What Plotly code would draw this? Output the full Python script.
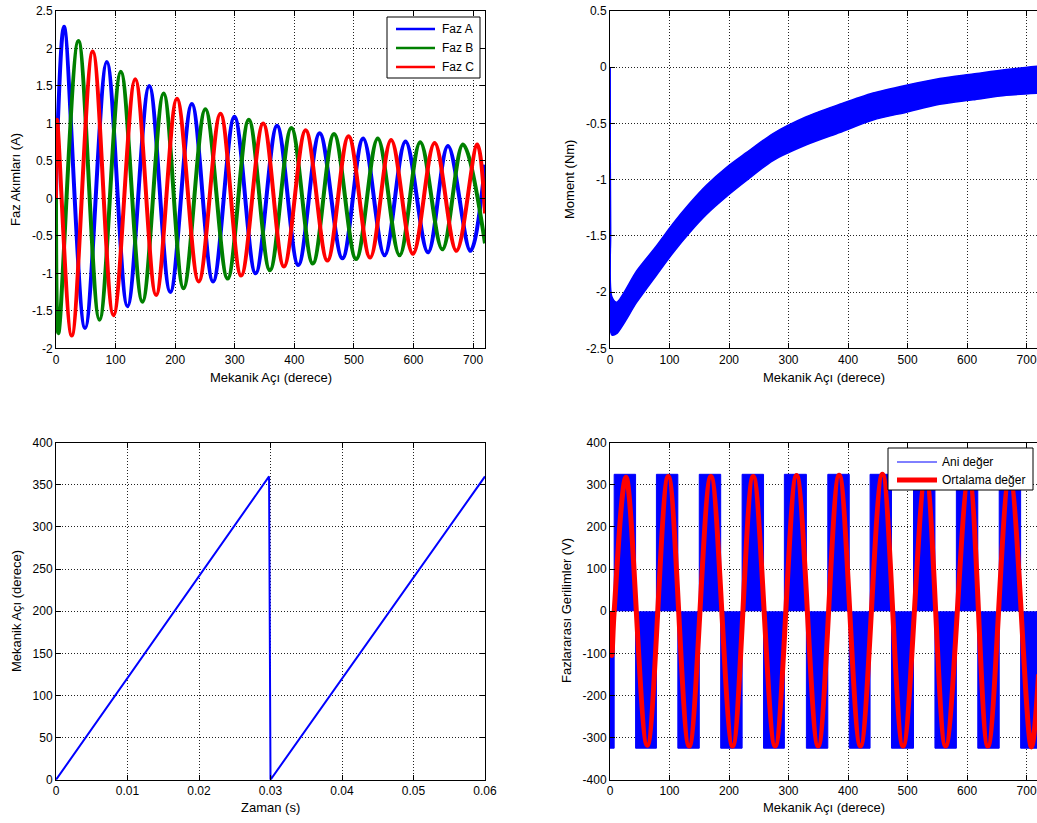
import plotly.graph_objects as go

W, H = 1037, 823
FONT = "Liberation Sans, Arial, Helvetica, sans-serif"

# ---- Faz akımları: tepe / çukur noktaları (mekanik açı [derece], akım [A]) ----
faz_a_aci = [0, 3, 13.5, 48.8, 85.3, 120, 156.5, 191.8, 228, 263.6, 299.5, 335, 371,
             406.6, 442.5, 480.7, 515.5, 551.4, 586.6, 624.3, 657.8, 695.6, 720]
faz_a_akim = [0, 1.0, 2.29, -1.73, 1.82, -1.44, 1.50, -1.25, 1.26, -1.11, 1.09, -1.00, 0.97,
              -0.89, 0.87, -0.80, 0.80, -0.76, 0.76, -0.72, 0.70, -0.70, 0.45]

faz_b_aci = [0, 4, 37.6, 73, 108.8, 145, 180.6, 214, 250.7, 288, 323.6, 359, 395,
             431, 466.6, 503.7, 540, 576.6, 611.3, 648.4, 683, 720]
faz_b_akim = [0, -1.80, 2.10, -1.62, 1.69, -1.38, 1.40, -1.20, 1.19, -1.07, 1.05, -0.96, 0.94,
              -0.87, 0.86, -0.81, 0.80, -0.76, 0.75, -0.68, 0.72, -0.60]

faz_c_aci = [0, 1.5, 26.4, 61.7, 96.5, 133, 168, 203, 239.5, 276, 310.7, 347.7, 382.5,
             419, 455.5, 491, 527.2, 562.4, 599, 635.4, 672, 707, 720]
faz_c_akim = [0, 1.05, -1.83, 1.96, -1.56, 1.59, -1.29, 1.33, -1.11, 1.13, -1.03, 1.00, -0.91,
              0.91, -0.83, 0.83, -0.79, 0.78, -0.74, 0.74, -0.70, 0.72, -0.20]

# ---- Moment: dalgalı bandın üst ve alt sınırları ----
moment_aci = [0, 0.8, 3, 11, 45, 78, 106, 134, 162, 196, 229, 274, 330, 386, 442, 498,
              554, 610, 666, 720]
moment_ust = [0, -1.40, -2.04, -2.09, -1.81, -1.59, -1.39, -1.21, -1.05, -0.89, -0.76,
              -0.59, -0.44, -0.33, -0.23, -0.16, -0.10, -0.06, -0.02, 0.01]
moment_alt = [0, -1.50, -2.38, -2.37, -2.09, -1.85, -1.65, -1.47, -1.31, -1.15, -1.01,
              -0.83, -0.69, -0.58, -0.47, -0.40, -0.33, -0.29, -0.25, -0.23]

# ---- Mekanik açı - zaman ----
zaman = [0, 0.0298, 0.0300, 0.06]
mekanik_aci = [0, 360, 0, 360]

# ---- Fazlararası gerilim: anahtarlama blokları ve ortalama değer ----
pwm_kenar = [0, 7, 43, 78, 114, 150, 186, 222, 258, 293, 330, 366, 402, 437, 473, 510,
             546, 582, 618, 654, 690, 720]
pwm_seviye = [-325, 325, -325, 325, -325, 325, -325, 325, -325, 325, -325, 325, -325,
              325, -325, 325, -325, 325, -325, 325, -325]

ortalama_aci = [0, 3, 7, 26.9, 62.6, 97.9, 133, 169.5, 206, 240.6, 277.5, 313.4, 349.7,
                385, 420.8, 457.7, 492.4, 530.5, 564, 603, 635, 671.5, 708, 720]
ortalama_v = [0, -105, 0, 318, -318, 320, -320, 320, -320, 320, -320, 322, -320,
              323, -320, 325, -320, 322, -320, 320, -320, 322, -322, -150]

# ---- tick etiketleri ----
aci_ticks = [0, 100, 200, 300, 400, 500, 600, 700]
akim_ticks = [-2, -1.5, -1, -0.5, 0, 0.5, 1, 1.5, 2, 2.5]
akim_text = ["-2", "-1.5", "-1", "-0.5", "0", "0.5", "1", "1.5", "2", "2.5"]
moment_ticks = [-2.5, -2, -1.5, -1, -0.5, 0, 0.5]
moment_text = ["-2.5", "-2", "-1.5", "-1", "-0.5", "0", "0.5"]
zaman_ticks = [0, 0.01, 0.02, 0.03, 0.04, 0.05, 0.06]
zaman_text = ["0", "0.01", "0.02", "0.03", "0.04", "0.05", "0.06"]
aci_y_ticks = [0, 50, 100, 150, 200, 250, 300, 350, 400]
gerilim_ticks = [-400, -300, -200, -100, 0, 100, 200, 300, 400]
gerilim_text = ["-400", "-300", "-200", "-100", "0", "100", "200", "300", "400"]


def px(x):
    return x / W


def py(y):
    return 1 - y / H


fig = go.Figure()

# Faz akımları
for xs, ys, col, ad in [(faz_a_aci, faz_a_akim, "#0000FF", "Faz A"),
                        (faz_b_aci, faz_b_akim, "#008000", "Faz B"),
                        (faz_c_aci, faz_c_akim, "#FF0000", "Faz C")]:
    fig.add_trace(go.Scatter(x=xs, y=ys, mode="lines", name=ad, xaxis="x", yaxis="y",
                             line=dict(color=col, width=4, shape="spline", smoothing=1)))

# Moment bandı
fig.add_trace(go.Scatter(x=moment_aci, y=moment_alt, mode="lines", xaxis="x2", yaxis="y2",
                         line=dict(color="#0000FF", width=1.5, shape="spline", smoothing=0.8),
                         showlegend=False))
fig.add_trace(go.Scatter(x=moment_aci, y=moment_ust, mode="lines", xaxis="x2", yaxis="y2",
                         fill="tonexty", fillcolor="#0000FF",
                         line=dict(color="#0000FF", width=1.5, shape="spline", smoothing=0.8),
                         showlegend=False))

# Mekanik açı
fig.add_trace(go.Scatter(x=zaman, y=mekanik_aci, mode="lines", xaxis="x3", yaxis="y3",
                         line=dict(color="#0000FF", width=2), showlegend=False))

# Fazlararası gerilim
fig.add_trace(go.Scatter(x=pwm_kenar, y=pwm_seviye + [pwm_seviye[-1]], mode="lines",
                         xaxis="x4", yaxis="y4", fill="tozeroy", fillcolor="#0000FF",
                         line=dict(color="#0000FF", width=1, shape="hv"), name="Ani değer"))
fig.add_trace(go.Scatter(x=ortalama_aci, y=ortalama_v, mode="lines", xaxis="x4", yaxis="y4",
                         line=dict(color="#FF0000", width=5, shape="spline", smoothing=1),
                         name="Ortalama değer"))


# Eksen ortak ayarları
def eksen(**kw):
    d = dict(showline=True, linecolor="black", linewidth=1, ticks="inside", ticklen=5,
             tickcolor="black", tickwidth=1, showgrid=True, gridcolor="#222222",
             gridwidth=1, griddash="1px,2px", zeroline=False, automargin=False,
             tickfont=dict(family=FONT, size=12, color="black"), mirror="ticks")
    d.update(kw)
    return d


sol = [px(56), px(485)]
sag = [px(610), 1.0]
ust = [py(348.3), py(11)]
alt = [py(779.8), py(442.7)]

fig.update_layout(
    width=W, height=H, margin=dict(l=0, r=0, t=0, b=0, pad=0),
    paper_bgcolor="white", plot_bgcolor="white", showlegend=False,
    xaxis=eksen(domain=sol, anchor="y", range=[0, 720], tickvals=aci_ticks),
    yaxis=eksen(domain=ust, anchor="x", range=[-2, 2.5], tickvals=akim_ticks,
                ticktext=akim_text),
    xaxis2=eksen(domain=sag, anchor="y2", range=[0, 717.5], tickvals=aci_ticks),
    yaxis2=eksen(domain=ust, anchor="x2", range=[-2.5, 0.5], tickvals=moment_ticks,
                 ticktext=moment_text, mirror=False),
    xaxis3=eksen(domain=sol, anchor="y3", range=[0, 0.06], tickvals=zaman_ticks,
                 ticktext=zaman_text),
    yaxis3=eksen(domain=alt, anchor="x3", range=[0, 400], tickvals=aci_y_ticks),
    xaxis4=eksen(domain=sag, anchor="y4", range=[0, 717.5], tickvals=aci_ticks),
    yaxis4=eksen(domain=alt, anchor="x4", range=[-400, 400], tickvals=gerilim_ticks,
                 ticktext=gerilim_text, mirror=False),
)

# Eksen başlıkları
ann = []


def baslik(text, x, y, aci=0):
    ann.append(dict(text=text, x=px(x), y=py(y), xref="paper", yref="paper",
                    showarrow=False, xanchor="center", yanchor="middle", textangle=aci,
                    font=dict(family=FONT, size=13, color="black")))


baslik("Mekanik Açı (derece)", 270.5, 377)
baslik("Faz Akımları (A)", 15, 180, -90)
baslik("Mekanik Açı (derece)", 824, 377)
baslik("Moment (Nm)", 569, 180, -90)
baslik("Zaman (s)", 270, 807)
baslik("Mekanik Açı (derece)", 16, 611, -90)
baslik("Mekanik Açı (derece)", 824, 807)
baslik("Fazlararası Gerilimler (V)", 566, 611, -90)

# Lejantlar
shapes = []


def kutu(x0, y0, x1, y1):
    shapes.append(dict(type="rect", xref="paper", yref="paper", x0=px(x0), x1=px(x1),
                       y0=py(y1), y1=py(y0), fillcolor="white",
                       line=dict(color="black", width=1)))


def lejant_satir(x0, x1, y, col, w, text, tx):
    shapes.append(dict(type="line", xref="paper", yref="paper", x0=px(x0), x1=px(x1),
                       y0=py(y), y1=py(y), line=dict(color=col, width=w)))
    ann.append(dict(text=text, x=px(tx), y=py(y), xref="paper", yref="paper",
                    showarrow=False, xanchor="left", yanchor="middle",
                    font=dict(family=FONT, size=12, color="black")))


kutu(387, 17, 480, 78)
lejant_satir(396, 435, 29, "#0000FF", 2.5, "Faz A", 440)
lejant_satir(396, 435, 48, "#008000", 2.5, "Faz B", 440)
lejant_satir(396, 435, 67, "#FF0000", 2.5, "Faz C", 440)

kutu(888, 448, 1033, 490)
lejant_satir(897, 937, 462, "#0000FF", 1, "Ani değer", 940)
lejant_satir(897, 937, 480, "#FF0000", 5, "Ortalama değer", 940)

fig.update_layout(annotations=ann, shapes=shapes)

fig.write_html("out.html")
